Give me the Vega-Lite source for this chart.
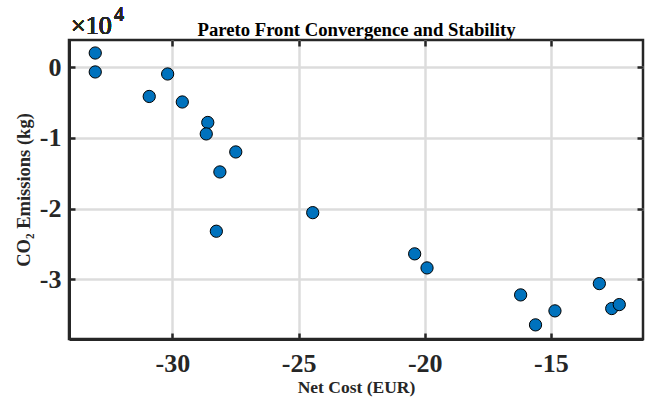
{
  "$schema": "https://vega.github.io/schema/vega-lite/v6.json",
  "width": 574,
  "height": 299,
  "autosize": "none",
  "padding": {"left": 69, "top": 40, "right": 2, "bottom": 60},
  "background": "white",
  "config": {
    "view": {"stroke": "#262626", "strokeWidth": 2.5},
    "font": "Liberation Serif"
  },
  "data": {
    "values": [
      {"cost": -33.06, "co2": 2020},
      {"cost": -33.06, "co2": -660},
      {"cost": -30.19, "co2": -950},
      {"cost": -30.92, "co2": -4130},
      {"cost": -29.61, "co2": -4910},
      {"cost": -28.60, "co2": -7810},
      {"cost": -28.66, "co2": -9430},
      {"cost": -27.49, "co2": -11980},
      {"cost": -28.12, "co2": -14810},
      {"cost": -28.26, "co2": -23200},
      {"cost": -24.44, "co2": -20570},
      {"cost": -20.40, "co2": -26400},
      {"cost": -19.91, "co2": -28390},
      {"cost": -16.20, "co2": -32210},
      {"cost": -15.61, "co2": -36450},
      {"cost": -14.84, "co2": -34470},
      {"cost": -13.08, "co2": -30610},
      {"cost": -12.59, "co2": -34140},
      {"cost": -12.29, "co2": -33580}
    ]
  },
  "layer": [
    {
      "mark": {"type": "point", "opacity": 0},
      "encoding": {
        "x": {
          "field": "cost", "type": "quantitative",
          "scale": {"domain": [-34.1, -11.35], "nice": false, "zero": false},
          "axis": {
            "orient": "top", "title": "Pareto Front Convergence and Stability",
            "titleAnchor": "middle", "titleBaseline": "alphabetic", "titleY": -5,
            "titleFont": "Liberation Serif", "titleFontSize": 18.7,
            "titleFontWeight": "bold", "titleColor": "black",
            "values": [-30, -25, -20, -15], "labels": false, "grid": false, "domain": false,
            "tickSize": -6, "tickWidth": 2.5, "tickColor": "#262626"
          }
        },
        "y": {
          "field": "co2", "type": "quantitative",
          "scale": {"domain": [-38450, 3860], "nice": false, "zero": false},
          "axis": {
            "orient": "right", "title": null, "values": [-30000, -20000, -10000, 0],
            "labels": false, "grid": false, "domain": false,
            "tickSize": -6, "tickWidth": 2.5, "tickColor": "#262626"
          }
        }
      }
    },
    {
      "mark": {"type": "point", "filled": true, "fill": "#0072BD", "stroke": "black", "strokeWidth": 1, "size": 150, "opacity": 1, "fillOpacity": 1},
      "encoding": {
        "x": {
          "field": "cost", "type": "quantitative",
          "scale": {"domain": [-34.1, -11.35], "nice": false, "zero": false},
          "axis": {
            "orient": "bottom", "title": "Net Cost (EUR)", "values": [-30, -25, -20, -15],
            "labelExpr": "'' + datum.value",
            "labelFont": "Liberation Serif", "labelFontSize": 26, "labelFontWeight": "bold", "labelColor": "#262626",
            "labelPadding": 17,
            "titleFont": "Liberation Serif", "titleFontSize": 17.5, "titleFontWeight": "bold", "titleColor": "#262626",
            "titlePadding": 2,
            "grid": true, "gridColor": "#dcdcdc", "gridWidth": 2.5,
            "domain": true, "domainColor": "#262626", "domainWidth": 3,
            "tickSize": -6, "tickWidth": 2.5, "tickColor": "#262626"
          }
        },
        "y": {
          "field": "co2", "type": "quantitative",
          "scale": {"domain": [-38450, 3860], "nice": false, "zero": false},
          "axis": {
            "orient": "left", "title": "CO₂ Emissions (kg)", "values": [-30000, -20000, -10000, 0],
            "labelExpr": "'' + (datum.value / 10000)",
            "labelFont": "Liberation Serif", "labelFontSize": 26, "labelFontWeight": "bold", "labelColor": "#262626",
            "labelPadding": 14,
            "titleFont": "Liberation Serif", "titleFontSize": 18.5, "titleFontWeight": "bold", "titleColor": "#262626",
            "titlePadding": 6,
            "grid": true, "gridColor": "#dcdcdc", "gridWidth": 2.5,
            "domain": true, "domainColor": "#262626", "domainWidth": 3,
            "tickSize": -6, "tickWidth": 2.5, "tickColor": "#262626"
          }
        }
      }
    },
    {
      "mark": {"type": "text", "text": "×10", "font": "Liberation Serif", "fontSize": 26, "fontWeight": "normal", "align": "left", "baseline": "alphabetic", "dx": 2, "dy": -6, "color": "#262626"},
      "encoding": {
        "x": {"datum": -34.1, "type": "quantitative", "axis": null},
        "y": {"datum": 3860, "type": "quantitative", "axis": null}
      }
    },
    {
      "mark": {"type": "text", "text": "4", "font": "Liberation Serif", "fontSize": 20, "fontWeight": "normal", "align": "left", "baseline": "alphabetic", "dx": 45, "dy": -19, "color": "#262626"},
      "encoding": {
        "x": {"datum": -34.1, "type": "quantitative", "axis": null},
        "y": {"datum": 3860, "type": "quantitative", "axis": null}
      }
    }
  ],
  "resolve": {"axis": {"x": "independent", "y": "independent"}}
}
